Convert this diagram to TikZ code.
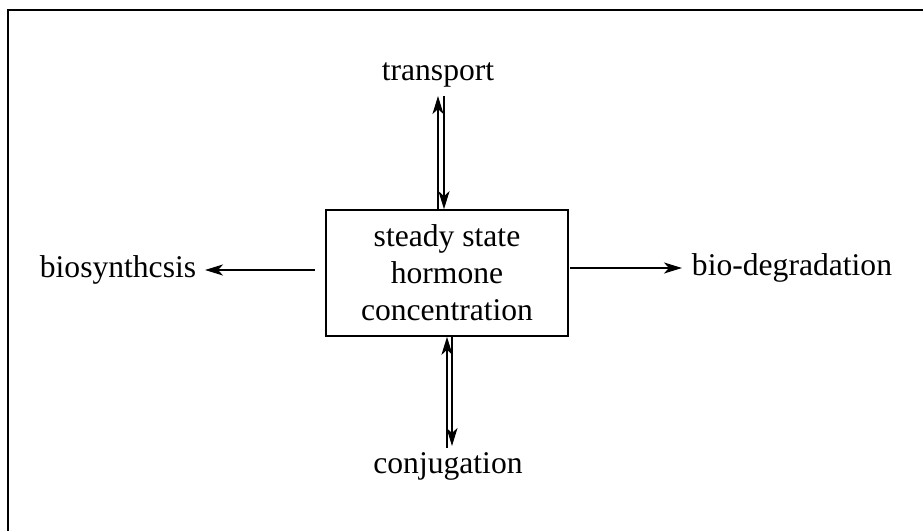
\documentclass[tikz,border=0pt]{standalone}
\usepackage{fontspec}
\setmainfont{Liberation Serif}
\usetikzlibrary{arrows.meta}
\begin{document}
\begin{tikzpicture}[x=0.5pt,y=-0.5pt,
  lbl/.style={font=\fontsize{15.8}{18.5}\selectfont, inner sep=0pt, anchor=center},
  arr/.style={line width=1.1pt, -{Stealth[length=9pt,width=5.5pt,inset=2.5pt]}},
  frame/.style={line width=0.8pt}]
\useasboundingbox (0,0) rectangle (923,531);
\draw[frame] (8,531) -- (8,10) -- (923,10);
\node[draw, line width=0.8pt, minimum width=121pt, minimum height=63pt, inner sep=0pt,
  font=\fontsize{15.8}{18.5}\selectfont, align=center] (box) at (447,273)
  {steady state\\hormone\\concentration};
\node[lbl] (transport) at (438,75) {transport};
\node[lbl] (conj) at (448,466) {conjugation};
\node[lbl] (bios) at (118,270) {biosynthcsis};
\node[lbl] (biod) at (792,268) {bio-degradation};
% top pair
\coordinate (tu) at (438,96);
\coordinate (td) at (444,96);
\draw[arr] (box.north -| tu) -- (tu);
\draw[arr] (td) -- (box.north -| td);
% bottom pair
\coordinate (bu) at (447,448);
\coordinate (bd) at (452,446);
\draw[arr] (bu) -- (box.south -| bu);
\draw[arr] (box.south -| bd) -- (bd);
% left / right
\coordinate (ls) at (315,270);
\coordinate (le) at (205,270);
\draw[arr] (ls) -- (le);
\coordinate (rs) at (570,268);
\coordinate (re) at (682,268);
\draw[arr] (rs) -- (re);
\end{tikzpicture}
\end{document}
